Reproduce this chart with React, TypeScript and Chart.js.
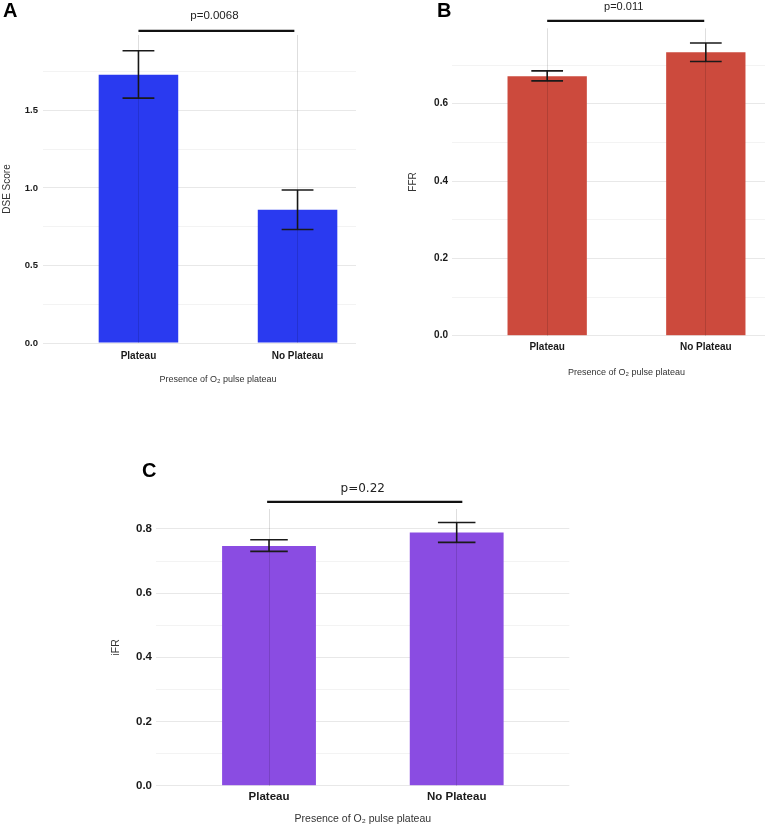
import React, { useEffect, useRef } from 'react';
import { Chart, registerables } from 'chart.js';

Chart.register(...registerables);

// ---------- data ----------
const CATEGORIES = ['Plateau', 'No Plateau'];
const X_POSITIONS = [1, 2];
const X_TITLE = 'Presence of O\u2082 pulse plateau';

// Panel A – DSE score
const DSE_MEAN = [1.73, 0.86];
const DSE_LOW = [1.58, 0.732];
const DSE_HIGH = [1.885, 0.987];
const DSE_MAJOR_TICKS = [0, 0.5, 1.0, 1.5];
const DSE_MINOR_TICKS = [0.25, 0.75, 1.25, 1.75];
const DSE_P = 'p=0.0068';
const DSE_BRACKET = [1, 1.98, 2.013]; // from, to, height (data units)

// Panel B – FFR
const FFR_MEAN = [0.671, 0.733];
const FFR_LOW = [0.659, 0.709];
const FFR_HIGH = [0.685, 0.757];
const FFR_MAJOR_TICKS = [0, 0.2, 0.4, 0.6];
const FFR_MINOR_TICKS = [0.1, 0.3, 0.5, 0.7];
const FFR_P = 'p=0.011';
const FFR_BRACKET = [1, 1.99, 0.814];

// Panel C – iFR
const IFR_MEAN = [0.747, 0.789];
const IFR_LOW = [0.73, 0.758];
const IFR_HIGH = [0.766, 0.82];
const IFR_MAJOR_TICKS = [0, 0.2, 0.4, 0.6, 0.8];
const IFR_MINOR_TICKS = [0.1, 0.3, 0.5, 0.7];
const IFR_P = 'p=0.22';
const IFR_BRACKET = [0.99, 2.03, 0.884];

// ---------- styling ----------
const SANS = "'Liberation Sans', Arial, Helvetica, sans-serif";
const DEJAVU = "'DejaVu Sans', Verdana, sans-serif";

type PanelCfg = {
  letter: string;
  letterLeft: number;
  letterTop: number;
  left: number;
  top: number;
  width: number;
  height: number;
  padLeft: number;
  padRight: number;
  padTop: number;
  yAxisWidth: number;
  xAxisHeight: number;
  yMax: number;
  mean: number[];
  low: number[];
  high: number[];
  major: number[];
  minor: number[];
  pLabel: string;
  bracket: number[];
  color: string;
  yTitle: string;
  yTickSize: number;
  yTickPad: number;
  yTitleSize: number;
  yTitlePad: number;
  xTickSize: number;
  xTickPad: number;
  xTitleSize: number;
  xTitlePad: number;
  pFont: string;
  pGap: number;
};

const PANELS: PanelCfg[] = [
  {
    letter: 'A', letterLeft: 3, letterTop: 0,
    left: 0, top: 0, width: 400, height: 395,
    padLeft: 0, padRight: 7, padTop: 35, yAxisWidth: 43, xAxisHeight: 52,
    yMax: 1.987,
    mean: DSE_MEAN, low: DSE_LOW, high: DSE_HIGH,
    major: DSE_MAJOR_TICKS, minor: DSE_MINOR_TICKS,
    pLabel: DSE_P, bracket: DSE_BRACKET,
    color: '#2A3AF0', yTitle: 'DSE Score',
    yTickSize: 9.5, yTickPad: 5, yTitleSize: 10, yTitlePad: 1,
    xTickSize: 10, xTickPad: 7, xTitleSize: 9, xTitlePad: 9.6,
    pFont: `normal 11.5px ${SANS}`, pGap: 15,
  },
  {
    letter: 'B', letterLeft: 437, letterTop: 0,
    left: 356, top: 0, width: 445, height: 388,
    padLeft: 50, padRight: 0, padTop: 28.3, yAxisWidth: 46, xAxisHeight: 52.3,
    yMax: 0.795,
    mean: FFR_MEAN, low: FFR_LOW, high: FFR_HIGH,
    major: FFR_MAJOR_TICKS, minor: FFR_MINOR_TICKS,
    pLabel: FFR_P, bracket: FFR_BRACKET,
    color: '#CC4A3D', yTitle: 'FFR',
    yTickSize: 10, yTickPad: 4, yTitleSize: 10, yTitlePad: 1,
    xTickSize: 10, xTickPad: 6, xTitleSize: 9, xTitlePad: 9.9,
    pFont: `normal 11px ${SANS}`, pGap: 14,
  },
  {
    letter: 'C', letterLeft: 142, letterTop: 460,
    left: 100, top: 440, width: 470, height: 386,
    padLeft: 10, padRight: 0.7, padTop: 69, yAxisWidth: 46.4, xAxisHeight: 40.3,
    yMax: 0.862,
    mean: IFR_MEAN, low: IFR_LOW, high: IFR_HIGH,
    major: IFR_MAJOR_TICKS, minor: IFR_MINOR_TICKS,
    pLabel: IFR_P, bracket: IFR_BRACKET,
    color: '#8A4CE2', yTitle: 'iFR',
    yTickSize: 11.5, yTickPad: 4.4, yTitleSize: 10.5, yTitlePad: 0,
    xTickSize: 11.5, xTickPad: 4.1, xTitleSize: 10.5, xTitlePad: 0.4,
    pFont: `normal 12px ${DEJAVU}`, pGap: 13,
  },
];

function makeAnnotations(p: PanelCfg) {
  return {
    id: 'panelAnnotations',
    afterDatasetsDraw(chart: any) {
      const { ctx } = chart;
      const x = chart.scales.x;
      const y = chart.scales.y;
      const cap = 0.2;
      ctx.save();
      ctx.strokeStyle = '#1a1a1a';
      ctx.lineWidth = 1.6;
      X_POSITIONS.forEach((xv, i) => {
        const px = x.getPixelForValue(xv);
        const pl = x.getPixelForValue(xv - cap / 2);
        const pr = x.getPixelForValue(xv + cap / 2);
        const yl = y.getPixelForValue(p.low[i]);
        const yh = y.getPixelForValue(p.high[i]);
        ctx.beginPath();
        ctx.moveTo(px, yh);
        ctx.lineTo(px, yl);
        ctx.moveTo(pl, yh);
        ctx.lineTo(pr, yh);
        ctx.moveTo(pl, yl);
        ctx.lineTo(pr, yl);
        ctx.stroke();
      });
      ctx.restore();
    },
    afterDraw(chart: any) {
      const { ctx } = chart;
      const x = chart.scales.x;
      const y = chart.scales.y;
      const [from, to, h] = p.bracket;
      const x1 = x.getPixelForValue(from);
      const x2 = x.getPixelForValue(to);
      const py = y.getPixelForValue(h);
      ctx.save();
      ctx.strokeStyle = '#111';
      ctx.lineWidth = 2.2;
      ctx.beginPath();
      ctx.moveTo(x1, py);
      ctx.lineTo(x2, py);
      ctx.stroke();
      ctx.fillStyle = '#222';
      ctx.font = p.pFont;
      ctx.textAlign = 'center';
      ctx.textBaseline = 'middle';
      ctx.fillText(p.pLabel, (x1 + x2) / 2 - 2, py - p.pGap);
      ctx.restore();
    },
  };
}

function buildConfig(p: PanelCfg): any {
  const allTicks = [...p.major, ...p.minor].sort((a, b) => a - b);
  return {
    type: 'bar',
    data: {
      datasets: [
        {
          data: X_POSITIONS.map((xv, i) => ({ x: xv, y: p.mean[i] })),
          backgroundColor: p.color,
          borderWidth: 0,
          categoryPercentage: 1,
          barPercentage: 0.5,
        },
      ],
    },
    options: {
      animation: false,
      responsive: false,
      devicePixelRatio: 1,
      layout: { padding: { left: p.padLeft, right: p.padRight, top: p.padTop, bottom: 0 } },
      plugins: { legend: { display: false }, tooltip: { enabled: false } },
      scales: {
        x: {
          type: 'linear',
          min: 0.4,
          max: 2.6,
          offset: false,
          afterBuildTicks: (s: any) => {
            s.ticks = X_POSITIONS.map((v) => ({ value: v }));
          },
          afterFit: (s: any) => {
            s.height = p.xAxisHeight;
          },
          border: { display: false },
          grid: {
            offset: false,
            drawTicks: false,
            color: 'rgba(0,0,0,0.13)',
            lineWidth: 1,
            z: 1,
          },
          ticks: {
            autoSkip: false,
            maxRotation: 0,
            padding: p.xTickPad,
            color: '#1a1a1a',
            font: { family: SANS, size: p.xTickSize, weight: 'bold' },
            callback: (v: number) => {
              const i = X_POSITIONS.indexOf(v);
              return i >= 0 ? CATEGORIES[i] : '';
            },
          },
          title: {
            display: true,
            text: X_TITLE,
            color: '#333',
            font: { family: SANS, size: p.xTitleSize },
            padding: { top: 0, bottom: p.xTitlePad },
          },
        },
        y: {
          type: 'linear',
          min: 0,
          max: p.yMax,
          afterBuildTicks: (s: any) => {
            s.ticks = allTicks.map((v) => ({ value: v }));
          },
          afterFit: (s: any) => {
            s.width = p.yAxisWidth;
          },
          border: { display: false },
          grid: {
            drawTicks: false,
            color: (c: any) => (c.tick && p.major.includes(c.tick.value) ? '#E8E8E8' : '#F0F0F0'),
            lineWidth: (c: any) => (c.tick && p.major.includes(c.tick.value) ? 1 : 0.8),
          },
          ticks: {
            autoSkip: false,
            padding: p.yTickPad,
            color: '#1a1a1a',
            font: { family: SANS, size: p.yTickSize, weight: 'bold' },
            callback: (v: number) => (p.major.includes(v) ? v.toFixed(1) : ''),
          },
          title: {
            display: true,
            text: p.yTitle,
            color: '#333',
            font: { family: SANS, size: p.yTitleSize },
            padding: { top: p.yTitlePad, bottom: 0 },
          },
        },
      },
    },
    plugins: [makeAnnotations(p)],
  };
}

function Panel({ cfg }: { cfg: PanelCfg }) {
  const ref = useRef<HTMLCanvasElement>(null);
  useEffect(() => {
    if (!ref.current) return;
    const chart = new Chart(ref.current, buildConfig(cfg));
    return () => chart.destroy();
  }, [cfg]);
  return (
    <div
      style={{
        position: 'absolute',
        left: cfg.left,
        top: cfg.top,
        width: cfg.width,
        height: cfg.height,
        background: '#fff',
      }}
    >
      <canvas ref={ref} width={cfg.width} height={cfg.height} style={{ display: 'block' }} />
    </div>
  );
}

export default function App() {
  return (
    <div
      style={{
        position: 'absolute',
        left: 0,
        top: 0,
        width: 765,
        height: 826,
        overflow: 'hidden',
        background: '#fff',
      }}
    >
      {PANELS.map((p) => (
        <Panel key={p.letter} cfg={p} />
      ))}
      {PANELS.map((p) => (
        <div
          key={'l' + p.letter}
          style={{
            position: 'absolute',
            left: p.letterLeft,
            top: p.letterTop,
            fontFamily: SANS,
            fontWeight: 'bold',
            fontSize: 20,
            lineHeight: 1,
            color: '#000',
          }}
        >
          {p.letter}
        </div>
      ))}
    </div>
  );
}
